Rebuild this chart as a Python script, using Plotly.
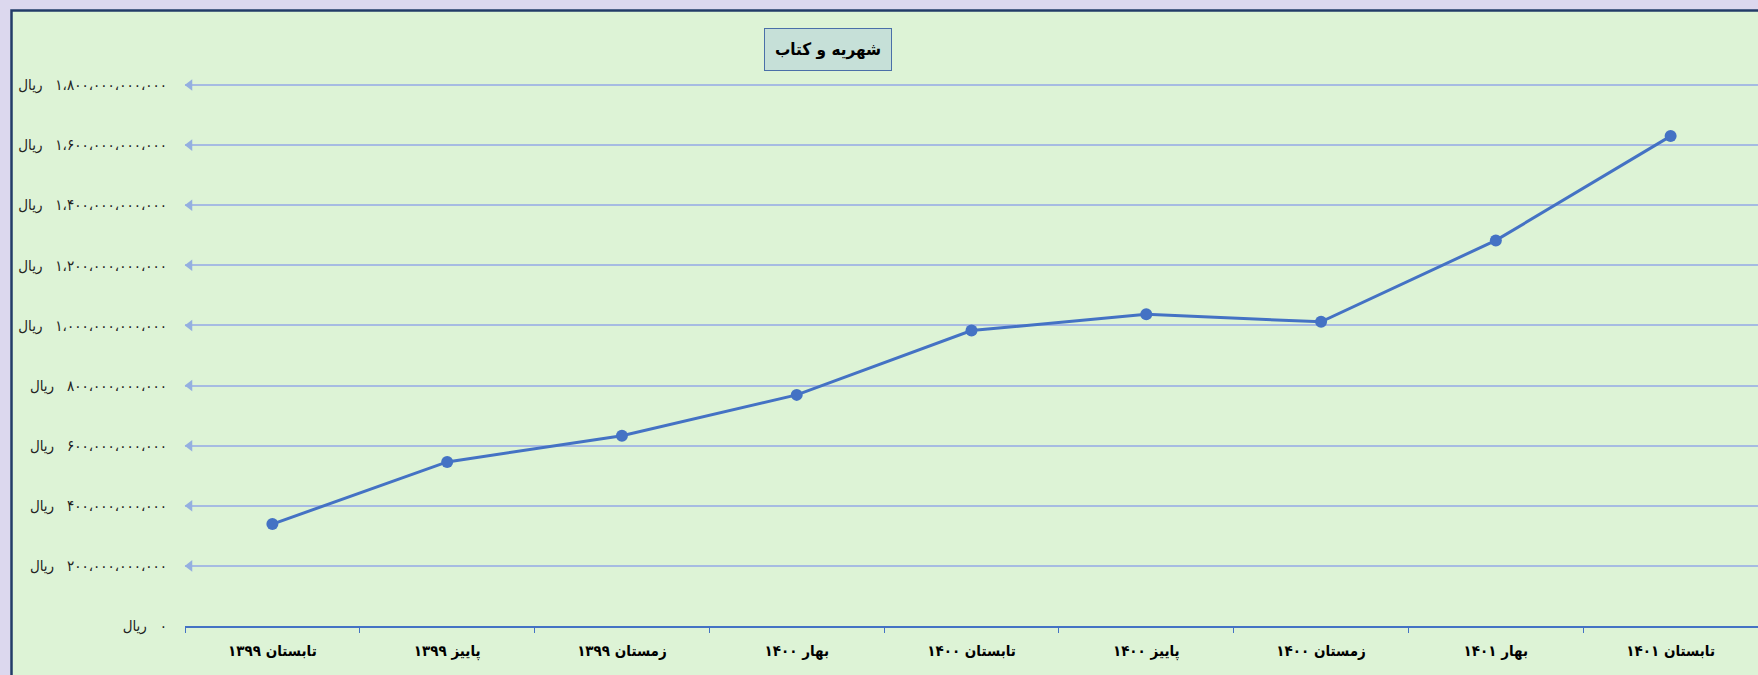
import plotly.graph_objects as go

# ---- data ----
categories = ["تابستان ۱۳۹۹", "پاییز ۱۳۹۹", "زمستان ۱۳۹۹", "بهار ۱۴۰۰", "تابستان ۱۴۰۰",
              "پاییز ۱۴۰۰", "زمستان ۱۴۰۰", "بهار ۱۴۰۱", "تابستان ۱۴۰۱"]
values = [339e9, 546e9, 633e9, 769e9, 983e9, 1037e9, 1012e9, 1283e9, 1630e9]
tick_values = [0, 200e9, 400e9, 600e9, 800e9, 1000e9, 1200e9, 1400e9, 1600e9, 1800e9]
title_text = "شهریه و کتاب"
currency = "ریال"

PERSIAN = str.maketrans("0123456789,", "۰۱۲۳۴۵۶۷۸۹،")


def fmt(v):
    return currency + "\u200e\u00a0\u00a0\u00a0" + f"{int(v):,}".translate(PERSIAN)


tick_text = [fmt(v) for v in tick_values]

W, H = 1758, 675
ML, MR, MT, MB = 185, 0, 82, 49
PW, PH = W - ML - MR, H - MT - MB
YMAX = 1810e9


def px_x(p):
    return (p - ML) / PW


def px_y(p):
    return (H - MB - p) / PH


LINE = "#4472c4"
GRID = "#a6bbe2"
GREEN = "#ddf3d6"
LAVENDER = "#dcd8ee"
FONT = "DejaVu Sans Condensed, DejaVu Sans, Noto Sans, sans-serif"

fig = go.Figure()
fig.add_trace(go.Scatter(
    x=categories, y=values, mode="lines+markers",
    line=dict(color=LINE, width=3),
    marker=dict(size=12, color=LINE),
    showlegend=False,
))
# arrow heads at the left end of each gridline
fig.add_trace(go.Scatter(
    x=[0.003] * (len(tick_values) - 1), y=tick_values[1:], xaxis="x2",
    mode="markers", marker=dict(symbol="triangle-left", size=10, color="#94afe0"),
    cliponaxis=False, hoverinfo="skip", showlegend=False,
))

fig.update_layout(
    width=W, height=H,
    margin=dict(l=ML, r=MR, t=MT, b=MB),
    paper_bgcolor=LAVENDER,
    plot_bgcolor=GREEN,
    font=dict(family=FONT, color="#000000"),
    xaxis=dict(
        type="category", range=[-0.5, len(categories) - 0.5],
        showline=True, linecolor=LINE, linewidth=1.5,
        ticks="outside", tickson="boundaries", ticklen=5, tickcolor=LINE, tickwidth=1,
        showgrid=False, zeroline=False, ticklabelstandoff=10,
        tickfont=dict(size=15, weight="bold", color="#000000"),
    ),
    xaxis2=dict(overlaying="x", range=[0, 1], visible=False),
    yaxis=dict(
        range=[0, YMAX], tickvals=tick_values, ticktext=tick_text,
        showgrid=True, gridcolor=GRID, gridwidth=1.5,
        zeroline=False, showline=False, ticks="",
        ticklabelstandoff=17,
        tickfont=dict(size=15, color="#222222"),
    ),
    shapes=[dict(
        type="rect", xref="paper", yref="paper",
        x0=px_x(11.5), x1=1.05, y0=-0.3, y1=px_y(10.5),
        fillcolor=GREEN, line=dict(color="#223c68", width=2.5), layer="below",
    )],
    annotations=[dict(
        text=title_text, xref="paper", yref="paper",
        x=px_x(828), y=px_y(49), xanchor="center", yanchor="middle",
        showarrow=False, bgcolor="#c6e0d8", bordercolor="#4a6fa8", borderwidth=1,
        borderpad=10, font=dict(size=17, weight="bold", color="#000000"),
    )],
)

fig.write_html(
    "out.html",
    config={"displayModeBar": False},
    post_script="document.body.style.margin='0';document.body.style.background='%s';" % LAVENDER,
)
